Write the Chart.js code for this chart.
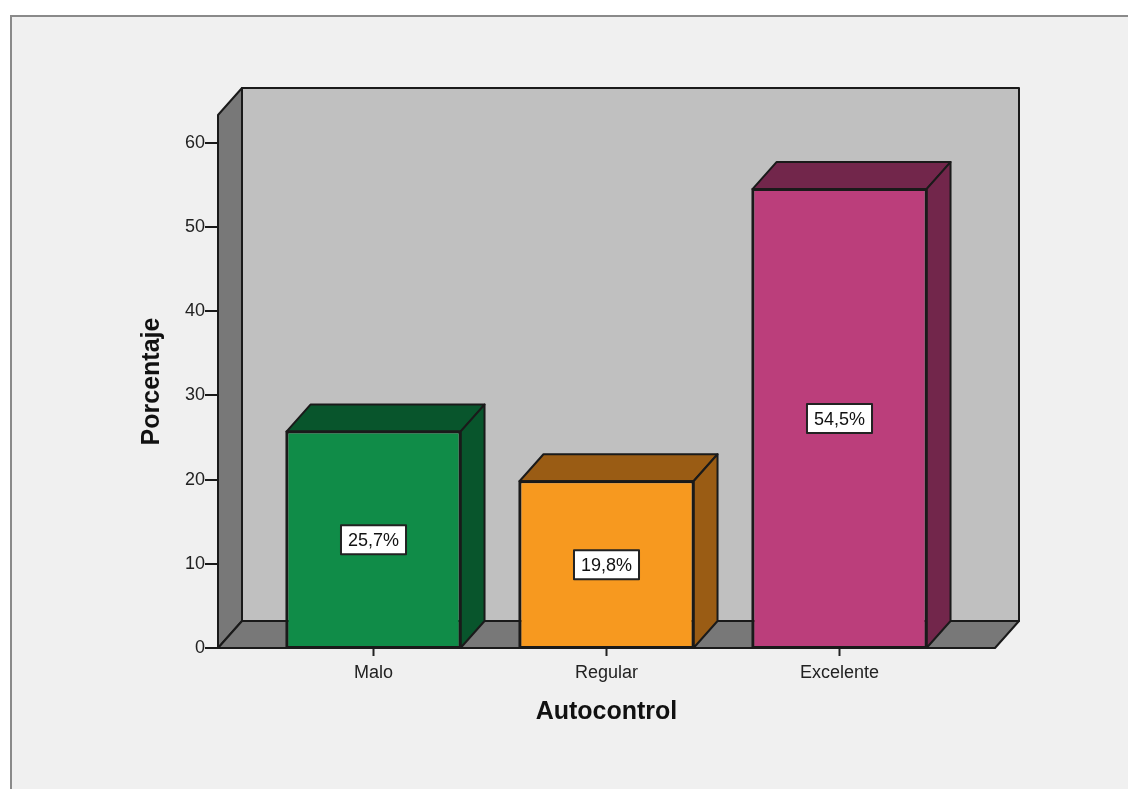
<!DOCTYPE html>
<html>
<head>
<meta charset="utf-8">
<script src="https://cdn.jsdelivr.net/npm/chart.js@4"></script>
<style>
  html, body { margin: 0; padding: 0; background: #fff; }
  canvas { display: block; }
</style>
</head>
<body>
<canvas id="myChart" width="1128" height="789"></canvas>
<script>
// data
const categories = ['Malo', 'Regular', 'Excelente'];
const percentages = [25.7, 19.8, 54.5];
const yTickValues = [0, 10, 20, 30, 40, 50, 60];
const yMax = 63.3;

const frontColors = ['#108c48', '#f7991f', '#bb3e7b'];
const shadeColors = ['#08552c', '#9a5c14', '#72264b'];

// 3d look
const DX = 24, DY = 27, SIDE_PAD = 39;
const EDGE = '#1a1a1a';
const FONT = '"Liberation Sans", Arial, sans-serif';

function poly(ctx, pts, fill) {
  ctx.beginPath();
  ctx.moveTo(pts[0][0], pts[0][1]);
  for (let i = 1; i < pts.length; i++) ctx.lineTo(pts[i][0], pts[i][1]);
  ctx.closePath();
  ctx.fillStyle = fill;
  ctx.fill();
  ctx.lineWidth = 2;
  ctx.strokeStyle = EDGE;
  ctx.lineJoin = 'round';
  ctx.stroke();
}

const box3d = {
  id: 'box3d',
  beforeDraw(chart) {
    const {ctx, chartArea: a, width, height} = chart;
    ctx.save();
    ctx.fillStyle = '#fff';
    ctx.fillRect(0, 0, width, height);
    ctx.fillStyle = '#f0f0f0';
    ctx.fillRect(11, 16, width, height);
    ctx.strokeStyle = '#8a8a8a';
    ctx.lineWidth = 2;
    ctx.strokeRect(11, 16, width + 10, height + 10);

    const l = a.left - SIDE_PAD, r = a.right + SIDE_PAD;
    const t = a.top, b = a.bottom;
    // back wall
    poly(ctx, [[l + DX, t - DY], [r + DX, t - DY], [r + DX, b - DY], [l + DX, b - DY]], '#c0c0c0');
    // left wall
    poly(ctx, [[l, t], [l + DX, t - DY], [l + DX, b - DY], [l, b]], '#787878');
    // floor
    poly(ctx, [[l, b], [l + DX, b - DY], [r + DX, b - DY], [r, b]], '#787878');

    // y tick marks
    const ys = chart.scales.y;
    ctx.strokeStyle = EDGE;
    ctx.lineWidth = 2;
    yTickValues.forEach(v => {
      const py = Math.round(ys.getPixelForValue(v));
      ctx.beginPath();
      ctx.moveTo(l - 13, py);
      ctx.lineTo(l, py);
      ctx.stroke();
    });
    ctx.restore();
  },
  afterDatasetsDraw(chart) {
    const {ctx} = chart;
    const meta = chart.getDatasetMeta(0);
    ctx.save();
    meta.data.forEach((bar, i) => {
      const p = bar.getProps(['x', 'y', 'base', 'width'], true);
      const left = p.x - p.width / 2, right = p.x + p.width / 2;
      // top face
      poly(ctx, [[left, p.y], [left + DX, p.y - DY], [right + DX, p.y - DY], [right, p.y]], shadeColors[i]);
      // side face
      poly(ctx, [[right, p.y], [right + DX, p.y - DY], [right + DX, p.base - DY], [right, p.base]], shadeColors[i]);
      ctx.lineWidth = 2;
      ctx.strokeStyle = EDGE;
      ctx.strokeRect(left, p.y, p.width, p.base - p.y);

      // value label
      const text = percentages[i].toFixed(1).replace('.', ',') + '%';
      ctx.font = '18px ' + FONT;
      const tw = ctx.measureText(text).width;
      const bw = tw + 14, bh = 29;
      const cy = (p.y + p.base) / 2;
      ctx.fillStyle = '#fff';
      ctx.fillRect(p.x - bw / 2, cy - bh / 2, bw, bh);
      ctx.strokeStyle = '#222';
      ctx.lineWidth = 2;
      ctx.strokeRect(p.x - bw / 2, cy - bh / 2, bw, bh);
      ctx.fillStyle = '#111';
      ctx.textAlign = 'center';
      ctx.textBaseline = 'middle';
      ctx.fillText(text, p.x, cy + 1);
    });
    ctx.restore();
  }
};

new Chart('myChart', {
  type: 'bar',
  data: {
    labels: categories,
    datasets: [{
      data: percentages,
      backgroundColor: frontColors,
      borderColor: EDGE,
      borderWidth: 2,
      borderSkipped: false,
      barPercentage: 0.747,
      categoryPercentage: 1
    }]
  },
  options: {
    responsive: false,
    animation: false,
    events: [],
    layout: {padding: {left: 137, right: 172, top: 115, bottom: 62}},
    plugins: {legend: {display: false}, tooltip: {enabled: false}},
    scales: {
      x: {
        offset: true,
        afterFit(scale) { scale.height = 79; },
        grid: {display: true, offset: false, drawOnChartArea: false, drawTicks: true,
               tickLength: 8, tickWidth: 2, color: '#222'},
        border: {display: false},
        ticks: {padding: 6, color: '#222', font: {family: FONT, size: 18}},
        title: {display: true, text: 'Autocontrol', color: '#111', padding: 0,
                font: {family: FONT, size: 25, weight: 'bold'}}
      },
      y: {
        min: 0,
        max: yMax,
        afterFit(scale) { scale.width = 120; },
        afterBuildTicks(scale) { scale.ticks = yTickValues.map(v => ({value: v})); },
        grid: {display: false, drawTicks: false},
        border: {display: false},
        ticks: {padding: 52, color: '#222', font: {family: FONT, size: 18}},
        title: {display: true, text: 'Porcentaje', color: '#111', padding: 0,
                font: {family: FONT, size: 25, weight: 'bold'}}
      }
    }
  },
  plugins: [box3d]
});
</script>
</body>
</html>
